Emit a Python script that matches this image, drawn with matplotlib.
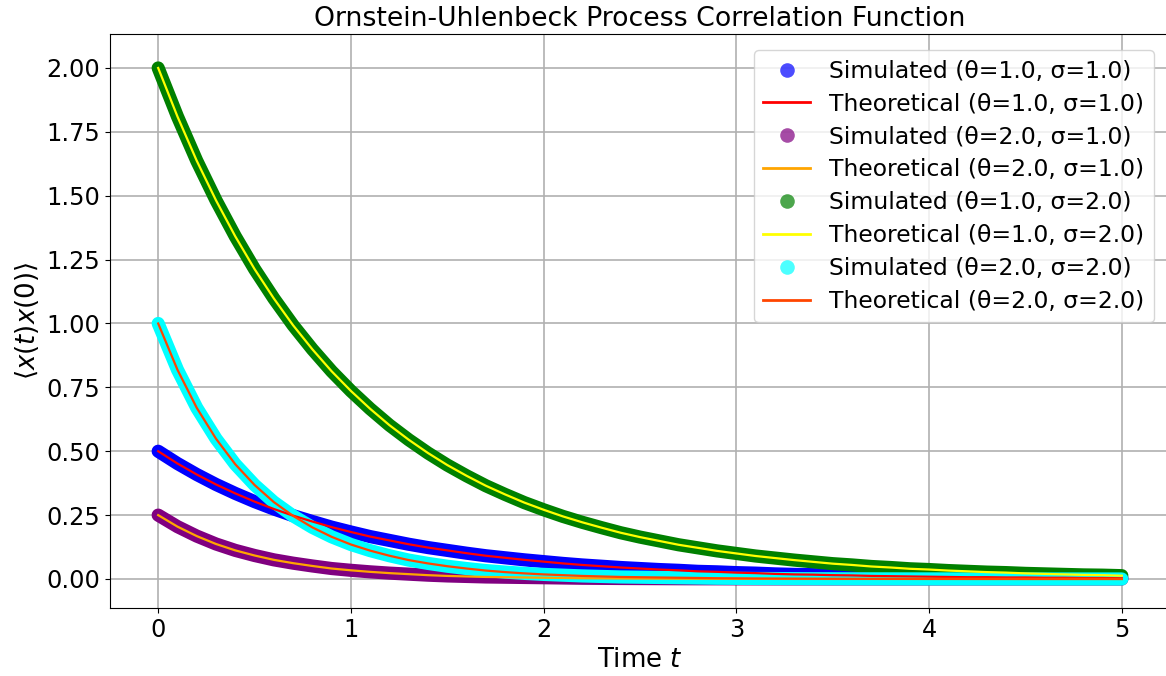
import numpy as np
import matplotlib
matplotlib.use("Agg")
import matplotlib.pyplot as plt
from matplotlib.lines import Line2D

# Time axis (step 0.1 from 0 to 5)
time = np.round(np.arange(0, 51) * 0.1, 1)

# Correlation values
corr_t1_s1 = [0.500, 0.452, 0.409, 0.370, 0.335, 0.303, 0.274, 0.248, 0.225, 0.203,
              0.184, 0.166, 0.151, 0.136, 0.123, 0.112, 0.101, 0.091, 0.083, 0.075,
              0.068, 0.061, 0.055, 0.050, 0.045, 0.041, 0.037, 0.034, 0.030, 0.028,
              0.025, 0.023, 0.020, 0.018, 0.017, 0.015, 0.014, 0.012, 0.011, 0.010,
              0.009, 0.008, 0.007, 0.007, 0.006, 0.006, 0.005, 0.005, 0.004, 0.004,
              0.003]
corr_t2_s1 = [0.250, 0.205, 0.168, 0.137, 0.112, 0.092, 0.075, 0.062, 0.051, 0.041,
              0.034, 0.028, 0.023, 0.019, 0.015, 0.012, 0.010, 0.008, 0.007, 0.006,
              0.005, 0.004, 0.003, 0.0025, 0.002, 0.0017, 0.0014, 0.0011, 0.0009, 0.0008,
              0.0006, 0.0005, 0.0004, 0.0003, 0.0003, 0.0002, 0.0002, 0.0002, 0.0001, 0.0001,
              0.0001, 0.0001, 0.0001, 0.0, 0.0, 0.0, 0.0, 0.0, 0.0, 0.0,
              0.0]
corr_t1_s2 = [2.000, 1.810, 1.637, 1.482, 1.341, 1.213, 1.098, 0.993, 0.899, 0.813,
              0.736, 0.666, 0.602, 0.545, 0.493, 0.446, 0.404, 0.365, 0.331, 0.299,
              0.271, 0.245, 0.222, 0.201, 0.181, 0.164, 0.149, 0.134, 0.122, 0.110,
              0.100, 0.090, 0.082, 0.074, 0.067, 0.060, 0.055, 0.049, 0.045, 0.040,
              0.037, 0.033, 0.030, 0.027, 0.025, 0.022, 0.020, 0.018, 0.016, 0.015,
              0.013]
corr_t2_s2 = [1.000, 0.819, 0.670, 0.549, 0.449, 0.368, 0.301, 0.247, 0.202, 0.165,
              0.135, 0.111, 0.091, 0.074, 0.061, 0.050, 0.041, 0.033, 0.027, 0.022,
              0.018, 0.015, 0.012, 0.010, 0.008, 0.007, 0.006, 0.005, 0.004, 0.003,
              0.0025, 0.002, 0.0017, 0.0014, 0.0011, 0.0009, 0.0007, 0.0006, 0.0005, 0.0004,
              0.0003, 0.0003, 0.0002, 0.0002, 0.0002, 0.0001, 0.0001, 0.0001, 0.0001, 0.0001,
              0.0]

series = [
    ("θ=1.0, σ=1.0", corr_t1_s1, "blue", "red"),
    ("θ=2.0, σ=1.0", corr_t2_s1, "purple", "orange"),
    ("θ=1.0, σ=2.0", corr_t1_s2, "green", "yellow"),
    ("θ=2.0, σ=2.0", corr_t2_s2, "cyan", "orangered"),
]

fig = plt.figure(figsize=(11.66, 6.76), dpi=100)
ax = fig.add_axes([110 / 1166, 1 - 608 / 676, 1060 / 1166, (608 - 34) / 676])

handles = []
labels = []
for name, vals, sim_c, th_c in series:
    ax.plot(time, vals, color=sim_c, lw=9.5, solid_capstyle="round", alpha=1.0, zorder=2)
    ax.plot(time, vals, color=th_c, lw=1.6, zorder=3)
    handles.append(Line2D([], [], marker="o", linestyle="", color=sim_c, alpha=0.7,
                          markersize=10.5, markeredgewidth=0))
    labels.append(f"Simulated ({name})")
    handles.append(Line2D([], [], color=th_c, lw=2))
    labels.append(f"Theoretical ({name})")

ax.set_xlim(-0.25, 5.25)
ax.set_ylim(-0.1135, 2.133)
ax.set_xticks([0, 1, 2, 3, 4, 5])
yt = np.arange(0, 2.01, 0.25)
ax.set_yticks(yt)
ax.set_yticklabels([f"{v:.2f}" for v in yt])
ax.tick_params(labelsize=17.3)
ax.grid(True, color="#b0b0b0", lw=1.2)
ax.set_axisbelow(True)
ax.spines["right"].set_visible(False)

ax.set_title("Ornstein-Uhlenbeck Process Correlation Function", fontsize=19.3)
ax.set_xlabel("Time $t$", fontsize=18.7)
ax.set_ylabel(r"$\langle x(t) x(0) \rangle$", fontsize=18.7)
ax.legend(handles, labels, loc="upper right", fontsize=16.9, labelspacing=0.42,
          borderaxespad=0.7)

fig.savefig("out.png", dpi=100)
